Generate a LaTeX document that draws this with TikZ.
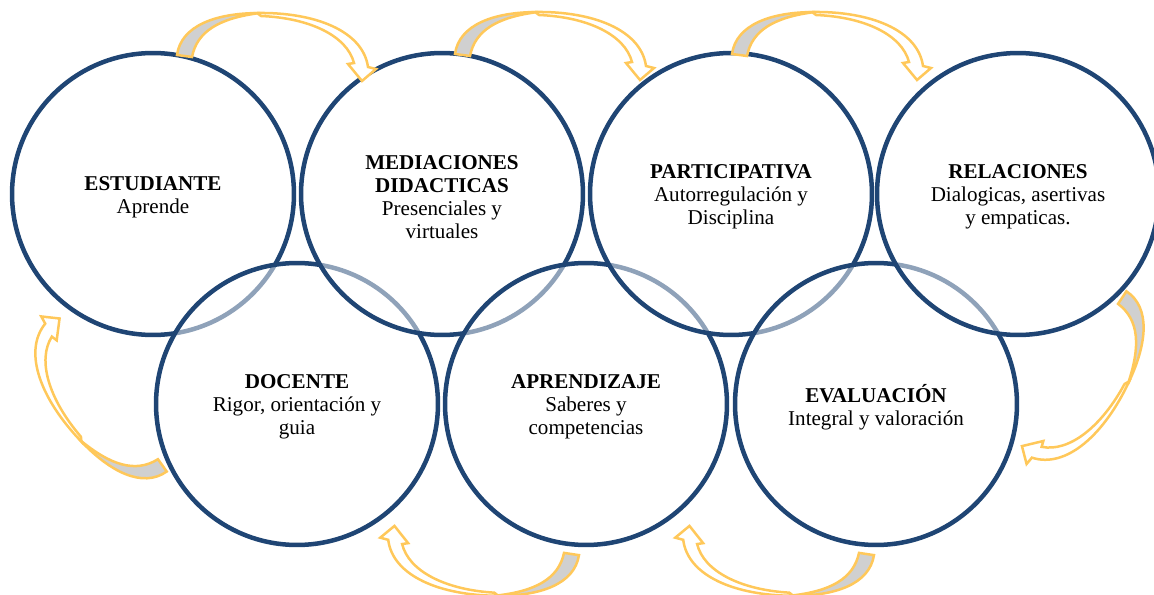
\documentclass[tikz,border=0pt]{standalone}
\usepackage{fontspec}
\setmainfont{Liberation Serif}
\usepackage{tikz}
\usetikzlibrary{positioning}

\definecolor{ringblue}{RGB}{31,69,116}
\definecolor{arrowgold}{RGB}{255,200,90}
\definecolor{tailgray}{RGB}{208,208,208}

\tikzset{
  curvarrow/.pic={
    % front of the band, with the head
    \draw[arrowgold, line width=0.05cm, fill=white] (72,-43) .. controls (130,-44) and (178,-25) .. (183,11)
      -- (191,13) -- (177,25) -- (163,8) -- (169,7) .. controls (162,-20) and (125,-38) .. (76,-40) -- cycle;
    % back of the band at the tail
    \draw[arrowgold, line width=0.05cm, fill=tailgray] (-8,-1) .. controls (-4,-30) and (30,-43) .. (75,-43)
      .. controls (35,-38) and (12,-25) .. (7,1) -- cycle;
  }
}

\begin{document}
\begin{tikzpicture}[x=0.02cm, y=-0.02cm,
  ring/.style={circle, draw=ringblue, line width=0.09cm, fill=white, fill opacity=0.5,
    minimum size=5.64cm, inner sep=0pt},
  ringtext/.style={align=center, inner sep=0pt, yshift=-0.06cm, font=\fontsize{12}{13}\selectfont}]
\useasboundingbox (0,0) rectangle (1154,595);

\node[ring] (est) at (153,194) {};
\node[ringtext] (est-t) at (est) {\textbf{ESTUDIANTE}\\Aprende};
\node[ring] (doc) at (297,404) {};
\node[ringtext] (doc-t) at (doc) {\textbf{DOCENTE}\\Rigor, orientación y\\guia};
\node[ring] (med) at (442,194) {};
\node[ringtext] (med-t) at (med) {\textbf{MEDIACIONES}\\\textbf{DIDACTICAS}\\Presenciales y\\virtuales};
\node[ring] (apr) at (586,404) {};
\node[ringtext] (apr-t) at (apr) {\textbf{APRENDIZAJE}\\Saberes y\\competencias};
\node[ring] (par) at (731,194) {};
\node[ringtext] (par-t) at (par) {\textbf{PARTICIPATIVA}\\Autorregulación y\\Disciplina};
\node[ring] (eva) at (876,404) {};
\node[ringtext] (eva-t) at (eva) {\textbf{EVALUACIÓN}\\Integral y valoración};
\node[ring] (rel) at (1018,194) {};
\node[ringtext] (rel-t) at (rel) {\textbf{RELACIONES}\\Dialogicas, asertivas\\y empaticas.};

% curved arrows round the ring
\pic at (185,56) {curvarrow};
\pic at (463,55) {curvarrow};
\pic at (740,55) {curvarrow};
\pic[rotate=-116] at (1122,298) {curvarrow};
\pic[rotate=-181] at (866,554) {curvarrow};
\pic[rotate=-181] at (571,554) {curvarrow};
\pic[rotate=-227] at (162,465) {curvarrow};
\end{tikzpicture}
\end{document}
